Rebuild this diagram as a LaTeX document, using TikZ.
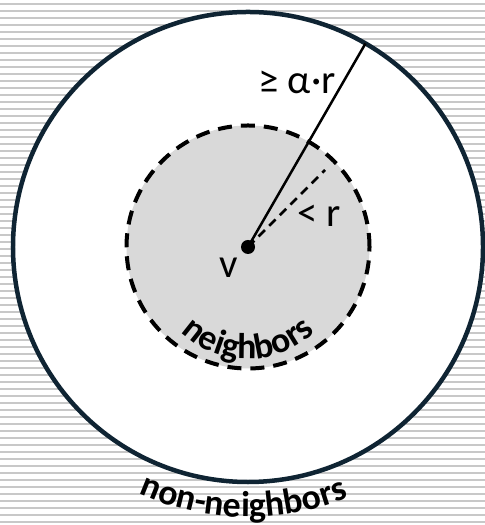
\documentclass[tikz,border=0pt]{standalone}
\usepackage{fontspec}
\setmainfont{Carlito}
\usetikzlibrary{decorations.text}
\definecolor{rim}{HTML}{0F2433}
\definecolor{nbfill}{HTML}{D9D9D9}
\definecolor{stripe}{HTML}{C8C8C8}
\begin{document}
\begin{tikzpicture}[x=1bp,y=1bp,
  ring/.style={circle,draw=rim,line width=4.5bp,fill=white,minimum size=470bp,
               inner sep=0pt,outer sep=0pt},
  nbhd/.style={circle,draw=black,line width=4bp,dash pattern=on 14bp off 9bp,
               fill=nbfill,minimum size=243bp,inner sep=0pt,outer sep=0pt},
  lbl/.style={font=\fontsize{41}{46}\selectfont,inner sep=0pt},
  radius line/.style={line width=2.5bp}]
\useasboundingbox (0,0) rectangle (485,525);
% striped backdrop
\foreach \k in {0,...,74} \draw[stripe,line width=1.3bp] (0,521-7*\k) -- (485,521-7*\k);

\coordinate (v) at (248,278);
\node[ring] (outer) at (v) {};
\node[nbhd] (inner) at (v) {};
\path (v) ++(45:109bp) coordinate (rtip);

\draw[radius line] (v) -- (outer.60);
\draw[radius line,dash pattern=on 9bp off 6bp] (v) -- (rtip);
\node[circle,fill=black,minimum size=14bp,inner sep=0pt] (dot) at (v) {};

\node[lbl] (far) at (297,443) {≥ α·r};
\node[lbl] (near) at (319,309) {< r};
\node[lbl] (vname) at (229,257) {v};

% curved captions
\coordinate (arcmid) at (248,262);
\path[decorate,decoration={text along path,text align=center,
  text={|\bfseries\fontsize{36}{42}\selectfont|neighbors}}]
  (arcmid) ++(190:96bp) arc[start angle=190,end angle=350,radius=96bp];
\path[decorate,decoration={text along path,text align=center,
  text={|\bfseries\fontsize{36}{42}\selectfont|non-neighbors}}]
  (v) ++(220:270bp) arc[start angle=220,end angle=318,radius=270bp];
\end{tikzpicture}
\end{document}
